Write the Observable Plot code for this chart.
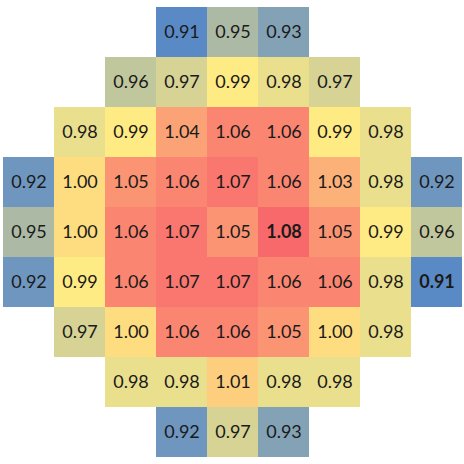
<!DOCTYPE html>
<html>
<head>
<meta charset="utf-8">
<script src="https://cdn.jsdelivr.net/npm/d3@7"></script>
<script src="https://cdn.jsdelivr.net/npm/@observablehq/plot@0.6"></script>
<style>
  html, body { margin: 0; padding: 0; background: #fff; }
</style>
</head>
<body>
<div id="chart"></div>
<script>
const rowIds = [0, 1, 2, 3, 4, 5, 6, 7, 8];
const colIds = [0, 1, 2, 3, 4, 5, 6, 7, 8];
const grid = [
  [null, null, null, 0.91, 0.95, 0.93, null, null, null],
  [null, null, 0.96, 0.97, 0.99, 0.98, 0.97, null, null],
  [null, 0.98, 0.99, 1.04, 1.06, 1.06, 0.99, 0.98, null],
  [0.92, 1.00, 1.05, 1.06, 1.07, 1.06, 1.03, 0.98, 0.92],
  [0.95, 1.00, 1.06, 1.07, 1.05, 1.08, 1.05, 0.99, 0.96],
  [0.92, 0.99, 1.06, 1.07, 1.07, 1.06, 1.06, 0.98, 0.91],
  [null, 0.97, 1.00, 1.06, 1.06, 1.05, 1.00, 0.98, null],
  [null, null, 0.98, 0.98, 1.01, 0.98, 0.98, null, null],
  [null, null, null, 0.92, 0.97, 0.93, null, null, null]
];
const boldCells = [[4, 5], [5, 8]];

const cells = [];
grid.forEach((row, r) => row.forEach((v, c) => {
  if (v != null) cells.push({row: r, col: c, value: v,
    bold: boldCells.some(([br, bc]) => br === r && bc === c)});
}));

const chart = Plot.plot({
  width: 464,
  height: 464,
  marginLeft: 2,
  marginRight: 2,
  marginTop: 3,
  marginBottom: 4,
  x: {type: "band", domain: colIds, padding: 0, axis: null},
  y: {type: "band", domain: rowIds, padding: 0, axis: null},
  color: {
    type: "linear",
    domain: [0.91, 0.99, 1.08],
    range: ["#5a8ac6", "#ffeb84", "#f8696b"],
    interpolate: "rgb"
  },
  style: {fontFamily: "Lato, 'Open Sans', sans-serif", background: "#fff"},
  marks: [
    Plot.cell(cells, {x: "col", y: "row", fill: "value", inset: 0}),
    Plot.text(cells.filter(d => !d.bold), {
      x: "col", y: "row",
      text: d => d.value.toFixed(2),
      fontSize: 18,
      fill: "#1a1a1a"
    }),
    Plot.text(cells.filter(d => d.bold), {
      x: "col", y: "row",
      text: d => d.value.toFixed(2),
      fontSize: 18,
      fontWeight: "bold",
      fill: "#1a1a1a"
    })
  ]
});
document.getElementById("chart").appendChild(chart);
</script>
</body>
</html>
